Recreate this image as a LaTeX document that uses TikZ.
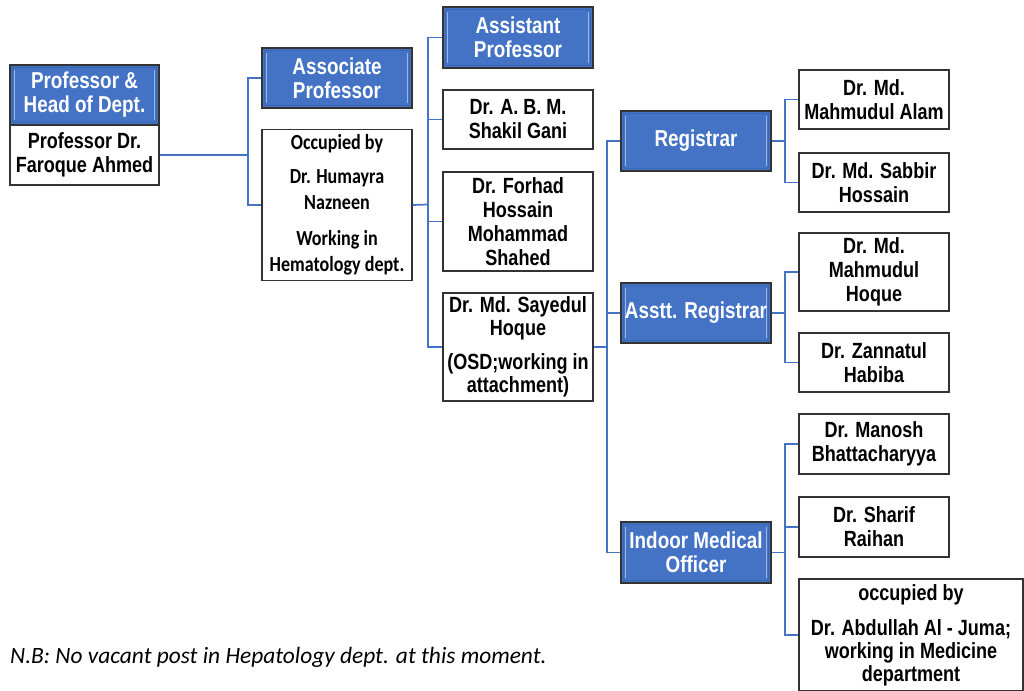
\documentclass[tikz,border=0pt]{standalone}
\usepackage{fontspec}
\setmainfont{Liberation Sans}
\newfontfamily\nb[FakeStretch=0.82]{Liberation Sans}
\newfontfamily\calib{Carlito}
\newfontfamily\calibn[FakeStretch=0.84]{Carlito}
\definecolor{myblue}{HTML}{4472C4}
\definecolor{lineblue}{HTML}{4472C4}
\definecolor{bevlight}{HTML}{9DB8E8}
\definecolor{bevdark}{HTML}{3B66B4}
\tikzset{
  conn/.style={draw=lineblue, line width=1.7pt},
  wbox/.style={draw=black!80, line width=1.3pt, fill=white, align=center, inner sep=0pt,
    font=\nb\bfseries\fontsize{22}{24}\selectfont},
  bbox/.style={draw=black!80, line width=1.8pt, fill=myblue, text=white, align=center, inner sep=0pt,
    font=\nb\bfseries\fontsize{23}{24}\selectfont,
    path picture={
      \draw[bevdark, line width=0.8pt] ([xshift=2.5pt,yshift=-2.5pt]path picture bounding box.north west) rectangle ([xshift=-2.5pt,yshift=2.5pt]path picture bounding box.south east);
      \draw[bevlight, line width=1.3pt] ([xshift=4.5pt,yshift=-5pt]path picture bounding box.north west) -- ([xshift=4.5pt,yshift=5pt]path picture bounding box.south west);
      \draw[bevlight, line width=1.3pt] ([xshift=-4.5pt,yshift=-5pt]path picture bounding box.north east) -- ([xshift=-4.5pt,yshift=5pt]path picture bounding box.south east);
    }},
  sz/.style 2 args={minimum width=#1, minimum height=#2}
}
\begin{document}
\begin{tikzpicture}[x=1pt,y=-1pt]
\useasboundingbox[fill=white] (0,0) rectangle (1024,690);
\begin{scope}
\clip (0,0) rectangle (1024,690);
% column 1
\node[bbox, sz={149}{60}] (headb) at (84.5,95) {Professor \&\\Head of Dept.};
\node[wbox, sz={149}{60}] (headw) at (84.5,155) {Professor Dr.\\Faroque Ahmed};
% column 2
\node[bbox, sz={150}{60}] (assoc) at (337,78) {Associate\\Professor};
\node[wbox, sz={150}{151}, font=\calibn\bfseries\fontsize{21.5}{26}\selectfont] (occ) at (337,205)
  {Occupied by\\[8pt]Dr. Humayra\\Nazneen\\[10pt]Working in\\Hematology dept.};
% column 3
\node[bbox, sz={150}{61}] (asstp) at (518,37.5) {Assistant\\Professor};
\node[wbox, sz={150}{59}] (shakil) at (518,119.5) {Dr. A. B. M.\\Shakil Gani};
\node[wbox, sz={150}{99}] (forhad) at (518,221.5) {Dr. Forhad\\Hossain\\Mohammad\\Shahed};
\node[wbox, sz={150}{108}, font=\nb\bfseries\fontsize{22}{23}\selectfont] (sayed) at (518,347)
  {Dr. Md. Sayedul\\Hoque\\[11pt](OSD;working in\\attachment)};
% column 4
\node[bbox, sz={150}{60}] (reg) at (696,141) {Registrar};
\node[bbox, sz={150}{60}] (areg) at (696,313) {Asstt. Registrar};
\node[bbox, sz={150}{61}] (imo) at (696,552.5) {Indoor Medical\\Officer};
% column 5
\node[wbox, sz={150}{59}] (malam) at (874,99.5) {Dr. Md.\\Mahmudul Alam};
\node[wbox, sz={150}{59}] (sabbir) at (874,182.5) {Dr. Md. Sabbir\\Hossain};
\node[wbox, sz={150}{78}] (mhoque) at (874,272) {Dr. Md.\\Mahmudul\\Hoque};
\node[wbox, sz={150}{59}] (zann) at (874,362.5) {Dr. Zannatul\\Habiba};
\node[wbox, sz={150}{60}] (manosh) at (874,444) {Dr. Manosh\\Bhattacharyya};
\node[wbox, sz={150}{60}] (sharif) at (874,527) {Dr. Sharif\\Raihan};
\node[wbox, sz={224}{112}, font=\nb\bfseries\fontsize{22}{23}\selectfont] (abd) at (911,635)
  {occupied by\\[12pt]Dr. Abdullah Al - Juma;\\working in Medicine\\department};
\end{scope}
% connectors
\coordinate (b1) at (248,155);
\coordinate (b2) at (428,204.5);
\coordinate (b3) at (607,347);
\coordinate (b4) at (785,141);
\coordinate (b5) at (785,313);
\coordinate (b6) at (785,552.5);
\draw[conn] (headw.east) -- (b1);
\draw[conn] (assoc.west) -| (b1);
\draw[conn] (occ.west) -| (b1);
\draw[conn] (occ.east) -- (b2);
\draw[conn] (asstp.west) -| (b2);
\draw[conn] (shakil.west) -| (b2);
\draw[conn] (forhad.west) -| (b2);
\draw[conn] (sayed.west) -| (b2);
\draw[conn] (sayed.east) -- (b3);
\draw[conn] (reg.west) -| (b3);
\draw[conn] (areg.west) -| (b3);
\draw[conn] (imo.west) -| (b3);
\draw[conn] (reg.east) -- (b4);
\draw[conn] (malam.west) -| (b4);
\draw[conn] (sabbir.west) -| (b4);
\draw[conn] (areg.east) -- (b5);
\draw[conn] (mhoque.west) -| (b5);
\draw[conn] (zann.west) -| (b5);
\draw[conn] (imo.east) -- (b6);
\draw[conn] (manosh.west) -| (b6);
\draw[conn] (sharif.west) -| (b6);
\draw[conn] (abd.west) -| (b6);
% note
\node[anchor=base west, inner sep=0pt, font=\calib\itshape\fontsize{23.4}{26}\selectfont] (nb) at (10,663)
  {N.B: No vacant post in Hepatology dept. at this moment.};
\end{tikzpicture}
\end{document}
